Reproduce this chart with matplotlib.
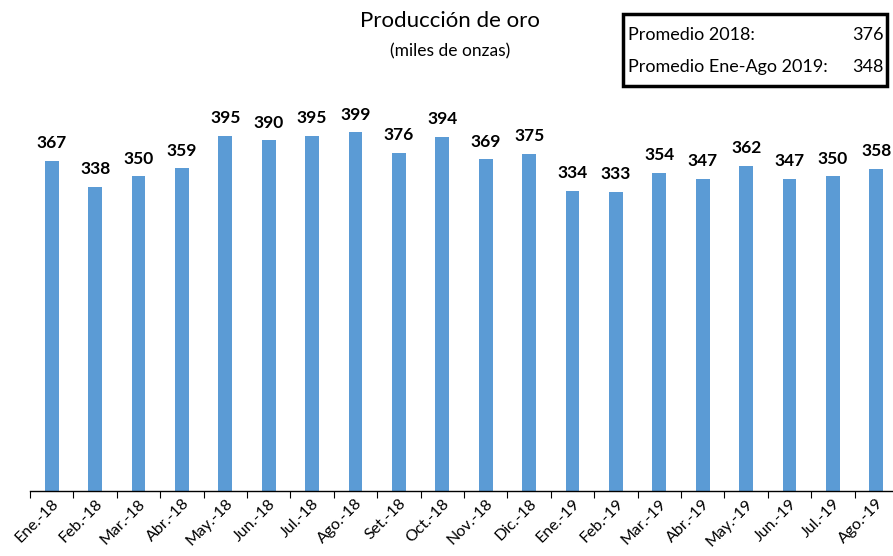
import numpy as np
import matplotlib.pyplot as plt
from matplotlib.patches import Rectangle

meses = ["Ene.-18", "Feb.-18", "Mar.-18", "Abr.-18", "May.-18", "Jun.-18", "Jul.-18",
         "Ago.-18", "Set.-18", "Oct.-18", "Nov.-18", "Dic.-18", "Ene.-19", "Feb.-19",
         "Mar.-19", "Abr.-19", "May.-19", "Jun.-19", "Jul.-19", "Ago.-19"]
produccion = [367, 338, 350, 359, 395, 390, 395, 399, 376, 394, 369, 375,
              334, 333, 354, 347, 362, 347, 350, 358]
promedio_2018 = 376
promedio_2019 = 348

plt.rcParams['font.family'] = ['Lato', 'DejaVu Sans']

fig = plt.figure(figsize=(8.93, 5.56), dpi=100)
ax = fig.add_axes([30 / 893, 1 - 491 / 556, 868 / 893, 391 / 556])

x = np.arange(len(meses))
ax.bar(x, produccion, width=0.32, color="#5B9BD5")
for xi, v in zip(x, produccion):
    ax.annotate(str(v), (xi, v), xytext=(0, 7), textcoords="offset points",
                ha="center", va="bottom", fontsize=12.5, fontweight="bold")

ax.set_xlim(-0.5, 19.5)
ax.set_ylim(0, 435)
ax.set_yticks([])
for s in ["left", "right", "top"]:
    ax.spines[s].set_visible(False)
ax.spines["bottom"].set_linewidth(1.0)

ax.set_xticks(x - 0.5, minor=False)
ax.set_xticklabels([])
ax.tick_params(axis="x", which="major", length=5, direction="out")
ax.set_xticks(x, minor=True)
ax.set_xticklabels(meses, minor=True, rotation=45, ha="right", va="top",
                   rotation_mode="anchor", fontsize=11.5)
ax.tick_params(axis="x", which="minor", length=0, pad=4)

fig.text(0.504, 0.962, "Producción de oro", ha="center", va="center", fontsize=16)
fig.text(0.504, 0.908, "(miles de onzas)", ha="center", va="center", fontsize=12.5)

box = Rectangle((623 / 893, 1 - 86 / 556), 264 / 893, 72 / 556, transform=fig.transFigure,
                fill=False, edgecolor="black", linewidth=2.5)
fig.patches.append(box)
fig.text(628 / 893, 1 - 35 / 556, "Promedio 2018:", ha="left", va="center", fontsize=13)
fig.text(884 / 893, 1 - 35 / 556, str(promedio_2018), ha="right", va="center", fontsize=13)
fig.text(628 / 893, 1 - 67 / 556, "Promedio Ene-Ago 2019:", ha="left", va="center", fontsize=13)
fig.text(884 / 893, 1 - 67 / 556, str(promedio_2019), ha="right", va="center", fontsize=13)

fig.savefig("out.png", dpi=100)
